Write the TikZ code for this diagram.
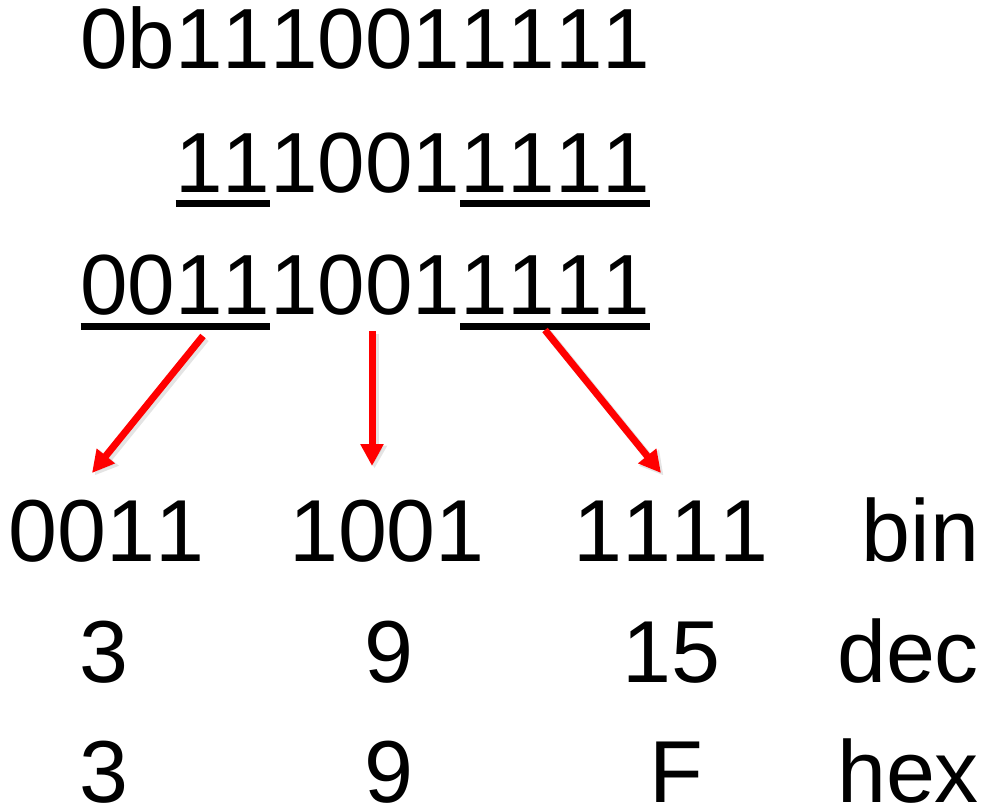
\documentclass[tikz,border=0pt]{standalone}
\usepackage{fontspec}
\setmainfont[Kerning=Off]{Liberation Sans}
\usetikzlibrary{arrows.meta,calc}
\begin{document}
\begin{tikzpicture}[x=1pt,y=-1pt,
  toptext/.style={font=\fontsize{85.4}{100}\selectfont, inner sep=0pt, outer sep=0pt, anchor=base west},
  bottext/.style={font=\fontsize{88}{100}\selectfont, inner sep=0pt, outer sep=0pt, text depth=0pt, anchor=base},
  labtext/.style={bottext, anchor=base east},
  uline/.style={line width=7pt, line cap=butt},
  redarrow/.style={draw=red, line width=7pt, line cap=butt, -{Triangle[width=22pt,length=22pt]}},
  shadowarrow/.style={draw=black!30, opacity=0.35, line width=8pt, line cap=butt, -{Triangle[width=24pt,length=23pt]}}
]
\useasboundingbox (0,0) rectangle (986,808);

% top rows
\node[toptext] (r1) at (80.5,69) {0b1110011111};

\node[toptext] (r2a) at (175.5,192) {11};
\node[toptext] (r2b) at (r2a.base east) {1001};
\node[toptext] (r2c) at (r2b.base east) {1111};

\node[toptext] (r3a) at (80.5,314) {0011};
\node[toptext] (r3b) at (r3a.base east) {1001};
\node[toptext] (r3c) at (r3b.base east) {1111};

% underlines
\draw[uline] ($(r2a.base west)+(0,11.8)$) -- ($(r2a.base east)+(0,11.8)$);
\draw[uline] ($(r2c.base west)+(0,11.8)$) -- ($(r2c.base east)+(0,11.8)$);
\draw[uline] ($(r3a.base west)+(0,12.3)$) -- ($(r3a.base east)+(0,12.3)$);
\draw[uline] ($(r3c.base west)+(0,12.3)$) -- ($(r3c.base east)+(0,12.3)$);

% bottom table
\node[bottext] (bin1) at (106.5,561) {0011};
\node[bottext] (bin2) at (387,561) {1001};
\node[bottext] (bin3) at (671,561) {1111};
\node[labtext] (lbin) at (979,561) {bin};

\node[bottext] (dec1) at (104,682) {3};
\node[bottext] (dec2) at (389,682) {9};
\node[bottext] (dec3) at (671.5,682) {15};
\node[labtext] (ldec) at (979,682) {dec};

\node[bottext] (hex1) at (104,802) {3};
\node[bottext] (hex2) at (389,802) {9};
\node[bottext] (hex3) at (676,802) {F};
\node[labtext] (lhex) at (979,802) {hex};

% arrow ends
\coordinate (t1) at (203,336);
\coordinate (h1) at (92,473);
\coordinate (t2) at (372,331);
\coordinate (h2) at (372,466);
\coordinate (t3) at (545,330);
\coordinate (h3) at (661,473);

% shadows
\draw[shadowarrow] ([shift={(2.5,2.5)}]t1) -- ([shift={(2.5,2.5)}]h1);
\draw[shadowarrow] ([shift={(2.5,2.5)}]t2) -- ([shift={(2.5,2.5)}]h2);
\draw[shadowarrow] ([shift={(2.5,2.5)}]t3) -- ([shift={(2.5,2.5)}]h3);

% arrows
\draw[redarrow] (t1) -- (h1);
\draw[redarrow] (t2) -- (h2);
\draw[redarrow] (t3) -- (h3);
\end{tikzpicture}
\end{document}
